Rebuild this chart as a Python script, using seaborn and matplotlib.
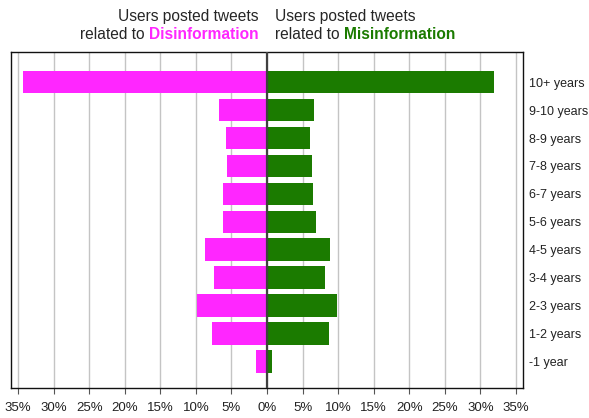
import pandas as pd
import matplotlib
matplotlib.use("Agg")
import matplotlib.pyplot as plt
import seaborn as sns
from matplotlib.ticker import FuncFormatter, MultipleLocator

# account age groups, top to bottom
ages = ["10+ years", "9-10 years", "8-9 years", "7-8 years", "6-7 years",
        "5-6 years", "4-5 years", "3-4 years", "2-3 years", "1-2 years", "-1 year"]
# share of users (%)
disinfo = [34.3, 6.7, 5.7, 5.6, 6.2, 6.2, 8.7, 7.4, 9.9, 7.8, 1.5]
misinfo = [31.9, 6.6, 6.1, 6.3, 6.5, 6.9, 8.9, 8.2, 9.9, 8.7, 0.75]

MAGENTA = "#ff26ff"
GREEN = "#1b7b00"

df = pd.concat([
    pd.DataFrame({"age": ages, "share": [-v for v in disinfo], "group": "Disinformation"}),
    pd.DataFrame({"age": ages, "share": misinfo, "group": "Misinformation"}),
])

sns.set_theme(style="white")
plt.rcParams["font.family"] = ["Liberation Sans", "DejaVu Sans"]

fig = plt.figure(figsize=(5.89, 4.18), dpi=100)
ax = fig.add_axes([11 / 589, 1 - 388 / 418, 512 / 589, 336 / 418])

sns.barplot(data=df, y="age", x="share", hue="group", order=ages, dodge=False,
            palette={"Disinformation": MAGENTA, "Misinformation": GREEN},
            width=0.81, saturation=1, legend=False, ax=ax, zorder=3,
            linewidth=0, edgecolor="none")

ax.set_xlim(-36, 36)
ax.set_ylim(10.95, -1.08)
ax.xaxis.set_major_locator(MultipleLocator(5))
ax.xaxis.set_major_formatter(FuncFormatter(lambda v, p: f"{abs(v):.0f}%"))
ax.grid(axis="x", color="#c4c4c4", linewidth=1, zorder=0)
ax.axvline(0, color="#404040", linewidth=1.6, zorder=4)

ax.set_xlabel("")
ax.set_ylabel("")
ax.yaxis.tick_right()
ax.tick_params(axis="y", length=0, labelsize=9, pad=4, colors="#222222")
ax.tick_params(axis="x", direction="out", length=4, width=0.8, color="#555555",
               labelsize=9.5, pad=6, labelcolor="#222222", bottom=True)
for s in ax.spines.values():
    s.set_color("#111111")
    s.set_linewidth(1)

# header text, two blocks meeting above the zero line
fs = 11.2
l1 = fig.text(259 / 589, 1 - 17 / 418, "Users posted tweets", ha="right", va="center", fontsize=fs)
ld = fig.text(259 / 589, 1 - 42 / 418, "Disinformation", ha="right", va="bottom",
              fontsize=fs, fontweight="bold", color=MAGENTA)
ax.annotate("related to ", xy=(0, 0), xycoords=ld, ha="right", va="bottom", fontsize=fs)

r1 = fig.text(275 / 589, 1 - 17 / 418, "Users posted tweets", ha="left", va="center", fontsize=fs)
rr = fig.text(275 / 589, 1 - 42 / 418, "related to ", ha="left", va="bottom", fontsize=fs)
ax.annotate("Misinformation", xy=(1, 0), xycoords=rr, ha="left", va="bottom",
            fontsize=fs, fontweight="bold", color=GREEN)

fig.savefig("out.png", dpi=100)
